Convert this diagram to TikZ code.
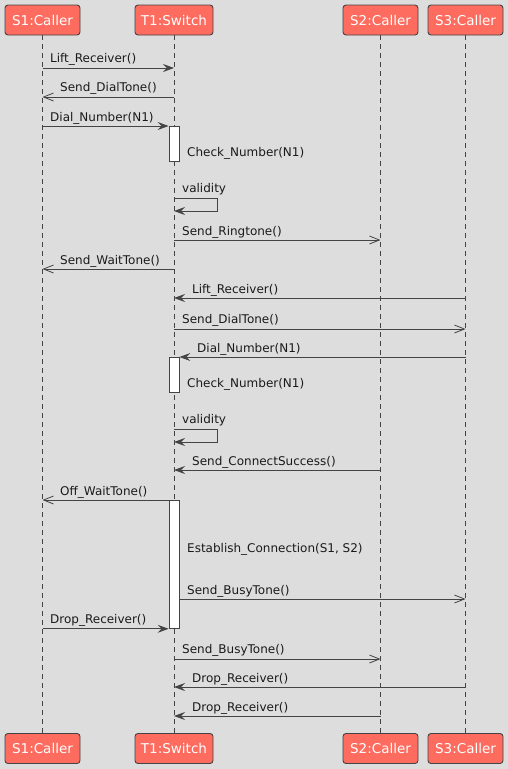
\documentclass[tikz,border=0pt]{standalone}
\usepackage{fontspec}
\setmainfont{DejaVu Sans}
\usetikzlibrary{arrows.meta}
\definecolor{bg}{HTML}{DDDDDD}
\definecolor{headred}{HTML}{FE6B5F}
\definecolor{ink}{HTML}{444444}
\definecolor{txt}{HTML}{1A1A1A}
\tikzset{
 head/.style={draw=ink, line width=0.9pt, fill=headred, rounded corners=3pt, text=white,
   font=\fontsize{13.5}{15}\selectfont, minimum height=30pt, inner sep=0pt},
 life/.style={draw=ink, line width=0.8pt, dash pattern=on 5pt off 4pt},
 act/.style={draw=ink, fill=white, line width=0.8pt, inner sep=0pt, minimum width=10pt, anchor=north},
 sync/.style={draw=ink, line width=0.8pt, -{Stealth[length=11pt,width=8pt,inset=4pt]}},
 reply/.style={draw=ink, line width=0.8pt, -{Straight Barb[length=10pt,width=8pt]}},
 lbl/.style={anchor=base west, inner sep=0pt, text=txt, font=\fontsize{12}{14}\selectfont},
}
\begin{document}
\begin{tikzpicture}[x=1pt,y=-1pt]
\fill[bg] (0,0) rectangle (508,769);
\useasboundingbox (0,0) rectangle (508,769);
% heads
\node[head, minimum width=75pt] (s1t) at (42.5,20) {S1:Caller};
\node[head, minimum width=78pt] (t1t) at (174,20) {T1:Switch};
\node[head, minimum width=75pt] (s2t) at (380.5,20) {S2:Caller};
\node[head, minimum width=75pt] (s3t) at (465.5,20) {S3:Caller};
\node[head, minimum width=75pt] (s1b) at (42.5,748.5) {S1:Caller};
\node[head, minimum width=78pt] (t1b) at (174,748.5) {T1:Switch};
\node[head, minimum width=75pt] (s2b) at (380.5,748.5) {S2:Caller};
\node[head, minimum width=75pt] (s3b) at (465.5,748.5) {S3:Caller};
% lifelines
\draw[life] (s1t.south) -- (s1b.north);
\draw[life] (t1t.south) -- (t1b.north);
\draw[life] (s2t.south) -- (s2b.north);
\draw[life] (s3t.south) -- (s3b.north);
% activations
\node[act, minimum height=35pt] (a1) at (174,126) {};
\node[act, minimum height=35pt] (a2) at (174,357) {};
\node[act, minimum height=128pt] (a3) at (174,500) {};
% messages
\draw[sync] (s1t |- 0,68) -- (t1t |- 0,68);
\node[lbl] (m1) at (50,62) {Lift\_Receiver()};
\draw[reply] (t1t |- 0,97) -- (s1t |- 0,97);
\node[lbl] (m2) at (60,91) {Send\_DialTone()};
\draw[sync] (s1t |- a1.north) -- (a1.north west);
\node[lbl] (m3) at (50,121) {Dial\_Number(N1)};
\node[lbl] (m4) at (187,156) {Check\_Number(N1)};
\draw[sync] (t1t |- 0,198) -- (217,198) -- (217,211) -- (t1t |- 0,211);
\node[lbl] (m5) at (182,192) {validity};
\draw[reply] (t1t |- 0,240) -- (s2t |- 0,240);
\node[lbl] (m6) at (182,235) {Send\_Ringtone()};
\draw[reply] (t1t |- 0,269) -- (s1t |- 0,269);
\node[lbl] (m7) at (60,264) {Send\_WaitTone()};
\draw[sync] (s3t |- 0,298) -- (t1t |- 0,298);
\node[lbl] (m8) at (192,293) {Lift\_Receiver()};
\draw[reply] (t1t |- 0,329) -- (s3t |- 0,329);
\node[lbl] (m9) at (182,323) {Send\_DialTone()};
\draw[sync] (s3t |- a2.north) -- (a2.north east);
\node[lbl] (m10) at (197,352) {Dial\_Number(N1)};
\node[lbl] (m11) at (187,387) {Check\_Number(N1)};
\draw[sync] (t1t |- 0,429) -- (217,429) -- (217,442) -- (t1t |- 0,442);
\node[lbl] (m12) at (182,423) {validity};
\draw[sync] (s2t |- 0,470) -- (t1t |- 0,470);
\node[lbl] (m13) at (192,465) {Send\_ConnectSuccess()};
\draw[reply] (a3.north west) -- (s1t |- a3.north);
\node[lbl] (m14) at (60,495) {Off\_WaitTone()};
\node[lbl] (m15) at (187,552) {Establish\_Connection(S1, S2)};
\draw[reply] (a3.east |- 0,599) -- (s3t |- 0,599);
\node[lbl] (m16) at (187,594) {Send\_BusyTone()};
\draw[sync] (s1t |- a3.south) -- (a3.south west);
\node[lbl] (m17) at (50,623) {Drop\_Receiver()};
\draw[reply] (t1t |- 0,659) -- (s2t |- 0,659);
\node[lbl] (m18) at (182,653) {Send\_BusyTone()};
\draw[sync] (s3t |- 0,687) -- (t1t |- 0,687);
\node[lbl] (m19) at (192,682) {Drop\_Receiver()};
\draw[sync] (s2t |- 0,716) -- (t1t |- 0,716);
\node[lbl] (m20) at (192,711) {Drop\_Receiver()};
\end{tikzpicture}
\end{document}
